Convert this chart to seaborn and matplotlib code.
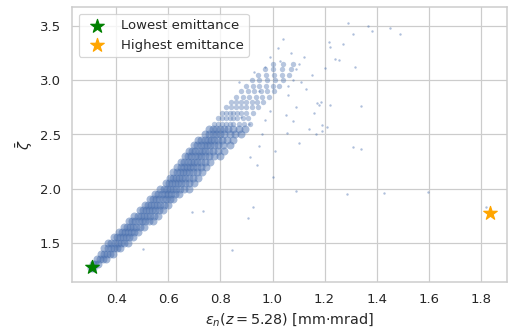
import numpy as np
import pandas as pd
import matplotlib
matplotlib.use("Agg")
import matplotlib.pyplot as plt
import seaborn as sns

# dense core of the cloud: one row of x values per zeta level
core_levels = [1.27, 1.30, 1.35, 1.40, 1.45, 1.50, 1.55, 1.60, 1.65, 1.70,
               1.75, 1.80, 1.85, 1.90, 1.95, 2.00, 2.05, 2.10, 2.15, 2.20,
               2.25, 2.30, 2.35, 2.40, 2.45, 2.50, 2.55, 2.60, 2.65, 2.70,
               2.75, 2.80, 2.85, 2.90, 2.95, 3.00, 3.05, 3.10, 3.15]
core_rows = [
    [0.305, 0.312],
    [0.31, 0.32, 0.33],
    [0.325, 0.337, 0.349, 0.36],
    [0.34, 0.352, 0.364, 0.376, 0.388],
    [0.355, 0.367, 0.379, 0.391, 0.403, 0.415],
    [0.37, 0.382, 0.394, 0.406, 0.418, 0.43, 0.445],
    [0.39, 0.402, 0.414, 0.426, 0.438, 0.45, 0.465],
    [0.41, 0.422, 0.434, 0.446, 0.458, 0.47, 0.485],
    [0.43, 0.442, 0.454, 0.466, 0.478, 0.49, 0.505],
    [0.45, 0.462, 0.474, 0.486, 0.498, 0.51, 0.525, 0.54],
    [0.47, 0.482, 0.494, 0.506, 0.518, 0.53, 0.545, 0.56],
    [0.49, 0.502, 0.514, 0.526, 0.538, 0.55, 0.565, 0.58],
    [0.51, 0.522, 0.534, 0.546, 0.558, 0.57, 0.585, 0.60],
    [0.53, 0.542, 0.554, 0.566, 0.578, 0.59, 0.605, 0.62],
    [0.55, 0.562, 0.574, 0.586, 0.598, 0.61, 0.625, 0.64],
    [0.57, 0.582, 0.594, 0.606, 0.618, 0.63, 0.645, 0.66, 0.68],
    [0.59, 0.602, 0.614, 0.626, 0.638, 0.65, 0.665, 0.68, 0.70],
    [0.605, 0.617, 0.629, 0.641, 0.653, 0.665, 0.68, 0.695, 0.715],
    [0.62, 0.632, 0.644, 0.656, 0.668, 0.68, 0.695, 0.71, 0.73],
    [0.635, 0.647, 0.659, 0.671, 0.683, 0.695, 0.71, 0.725, 0.745],
    [0.65, 0.662, 0.674, 0.686, 0.698, 0.71, 0.725, 0.74, 0.76],
    [0.665, 0.677, 0.689, 0.701, 0.713, 0.725, 0.74, 0.755, 0.775, 0.80],
    [0.68, 0.692, 0.704, 0.716, 0.728, 0.74, 0.755, 0.77, 0.79, 0.815],
    [0.70, 0.712, 0.724, 0.736, 0.748, 0.76, 0.775, 0.79, 0.81, 0.835],
    [0.715, 0.727, 0.739, 0.751, 0.763, 0.775, 0.79, 0.805, 0.825, 0.85],
    [0.74, 0.755, 0.77, 0.785, 0.80, 0.815, 0.835, 0.855, 0.88],
    [0.755, 0.77, 0.785, 0.80, 0.815, 0.83, 0.85, 0.87, 0.895],
    [0.775, 0.79, 0.805, 0.82, 0.835, 0.85, 0.87, 0.89, 0.915],
    [0.79, 0.805, 0.82, 0.835, 0.85, 0.865, 0.885, 0.905],
    [0.805, 0.82, 0.835, 0.85, 0.865, 0.88, 0.90, 0.925],
    [0.82, 0.84, 0.86, 0.88, 0.90, 0.92, 0.945],
    [0.84, 0.86, 0.88, 0.90, 0.92, 0.94, 0.965],
    [0.86, 0.885, 0.91, 0.935, 0.96, 0.985],
    [0.88, 0.905, 0.93, 0.955, 0.98, 1.005],
    [0.90, 0.925, 0.95, 0.975, 1.0, 1.025],
    [0.92, 0.95, 0.98, 1.01, 1.04],
    [0.945, 0.975, 1.005, 1.035, 1.065],
    [0.97, 1.0, 1.035, 1.07],
    [1.0, 1.04, 1.08],
]

# loose points around and above the core
sparse_x = [1.29, 1.365, 1.38, 1.45, 1.49, 1.31, 1.216, 1.27, 1.22, 1.24,
            1.254, 1.316, 1.20, 1.185, 1.18, 1.22, 1.34, 1.19, 1.21, 1.19,
            1.167, 1.31, 1.34, 1.285, 1.427, 1.595, 1.82, 0.844, 0.733, 0.69,
            0.925, 0.906, 1.0, 1.09, 0.503, 1.08, 1.09, 1.17, 1.055, 1.10,
            0.95, 0.97, 0.913, 1.07, 1.12, 1.15, 1.10, 1.13, 1.16, 1.06,
            1.02, 0.99, 1.04, 1.11, 1.08, 0.96, 1.01, 0.94, 1.05, 1.14,
            0.93, 0.97, 1.03, 0.87, 0.91, 0.99, 1.06, 1.09, 0.88, 0.95]
sparse_y = [3.53, 3.50, 3.46, 3.48, 3.43, 3.43, 3.35, 3.34, 3.31, 3.20,
            3.19, 3.12, 3.11, 2.80, 2.77, 2.77, 2.76, 2.59, 2.57, 2.53,
            2.50, 2.38, 2.37, 1.95, 1.96, 1.97, 1.83, 1.43, 1.79, 1.78,
            1.83, 1.73, 2.11, 1.98, 1.44, 3.00, 2.75, 2.79, 2.51, 2.42,
            2.39, 2.63, 2.29, 3.25, 3.22, 3.05, 3.15, 2.92, 2.70, 2.86,
            3.30, 3.22, 3.38, 2.98, 2.62, 2.50, 2.35, 2.22, 2.68, 2.55,
            3.08, 3.12, 3.18, 2.98, 2.60, 2.72, 2.95, 3.10, 2.66, 2.90]

best_eps, best_zeta = 0.308, 1.28
worst_eps, worst_zeta = 1.833, 1.776

cloud = pd.DataFrame({
    "eps": [x for row in core_rows for x in row],
    "zeta": [lvl for lvl, row in zip(core_levels, core_rows) for _ in row],
})
lower = cloud[cloud["zeta"] < 2.6]
upper = cloud[cloud["zeta"] >= 2.6]
loose = pd.DataFrame({"eps": sparse_x, "zeta": sparse_y})

sns.set_theme(style="whitegrid")
fig, ax = plt.subplots(figsize=(5.88, 3.82), dpi=86.4)
fig.subplots_adjust(left=0.142, right=0.998, top=0.978, bottom=0.146)

blue = sns.color_palette("deep")[0]
sns.scatterplot(data=lower, x="eps", y="zeta", s=44, alpha=0.5,
                color=blue, linewidth=0, ax=ax)
sns.scatterplot(data=upper, x="eps", y="zeta", s=20, alpha=0.4,
                color=blue, linewidth=0, ax=ax)
sns.scatterplot(data=loose, x="eps", y="zeta", s=4, alpha=0.45,
                color=blue, linewidth=0, ax=ax)

ax.scatter([best_eps], [best_zeta], marker="*", s=140, color="green",
           label="Lowest emittance", zorder=5)
ax.scatter([worst_eps], [worst_zeta], marker="*", s=140, color="orange",
           label="Highest emittance", zorder=5)

ax.set_xlim(0.231, 1.90)
ax.set_ylim(1.14, 3.675)
ax.set_xlabel(r"$\epsilon_n(z=5.28)$ [mm$\cdot$mrad]")
ax.set_ylabel(r"$\bar{\zeta}$")
ax.legend(loc="upper left")

fig.savefig("out.png", dpi=86.4)
